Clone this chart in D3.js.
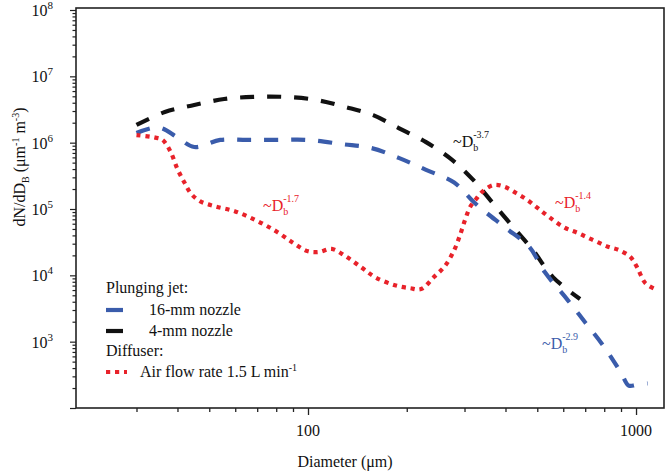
<!DOCTYPE html>
<html>
<head>
<meta charset="utf-8">
<script src="https://cdn.jsdelivr.net/npm/d3@7"></script>
<style>
  html, body { margin: 0; padding: 0; background: #fff; }
  svg { display: block; }
</style>
</head>
<body>
<svg id="chart" width="666" height="474" font-family="'Liberation Serif', 'Times New Roman', Times, serif"></svg>
<script>
// ---- data ----
const jet16Diam = [30, 35, 40, 45, 54, 65, 80, 100, 127, 156, 189, 229, 279, 325, 398, 472, 527, 620, 703, 800, 900, 950, 1000, 1085];
const jet16Conc = [1.4e6, 1.7e6, 1.2e6, 8.6e5, 1.1e6, 1.1e6, 1.1e6, 1.1e6, 9.5e5, 8.3e5, 5.9e5, 3.9e5, 2.5e5, 1.19e5, 5.3e4, 2.7e4, 1.12e4, 4.2e3, 1.9e3, 830, 340, 218, 222, 235];

const jet4Diam = [30, 36.6, 45, 55.5, 68, 85, 106, 130, 158, 189, 229, 275, 320, 364, 430, 485, 558, 675];
const jet4Conc = [1.85e6, 2.9e6, 3.7e6, 4.55e6, 4.9e6, 4.9e6, 4.4e6, 3.45e6, 2.6e6, 1.66e6, 1.02e6, 5.5e5, 2.7e5, 1.27e5, 4.8e4, 2.4e4, 9.4e3, 4.4e3];

const diffDiam = [30, 34, 36, 38, 40, 42, 44, 47, 52, 60, 70, 80, 90, 100, 108, 118, 131, 146, 160, 184, 205, 221, 242, 262, 279, 290, 301, 312, 325, 341, 369, 398, 431, 466, 502, 543, 603, 668, 740, 821, 887, 960, 1006, 1066, 1135];
const diffConc = [1.3e6, 1.2e6, 1.1e6, 7.5e5, 4e5, 2.5e5, 1.7e5, 1.3e5, 1.1e5, 9.2e4, 6.6e4, 4.6e4, 3.1e4, 2.3e4, 2.25e4, 2.5e4, 1.9e4, 1.3e4, 9.4e3, 7.1e3, 6.4e3, 6.2e3, 9.4e3, 1.4e4, 2.4e4, 3.9e4, 6.8e4, 1.07e5, 1.4e5, 1.85e5, 2.3e5, 2.15e5, 1.74e5, 1.37e5, 1.03e5, 7.6e4, 5.3e4, 4.3e4, 3.4e4, 2.7e4, 2.4e4, 1.9e4, 1.34e4, 7.7e3, 6.3e3];

const xTickLabels = [100, 1000];
const yTickExponents = [3, 4, 5, 6, 7, 8];

const seriesNames = ["16-mm nozzle", "4-mm nozzle", "Air flow rate 1.5 L min"];
const colors = { blue: "#3a5cab", black: "#111111", red: "#e8222a" };

// ---- layout ----
const FONT = "'Liberation Serif', 'Times New Roman', Times, serif";
const svg = d3.select("#chart");
const L = 76, R = 664, T = 8, B = 408;
const x = d3.scaleLog().domain([19.62, 1217]).range([L, R]);
const y = d3.scaleLog().domain([100, 1.072e8]).range([B, T]);

// ticks
const xMinor = [];
for (const dec of [10, 100]) for (let k = 2; k <= 9; k++) { const v = k * dec; if (v >= 30) xMinor.push(v); }
const xAxis = d3.axisBottom(x).tickValues(xMinor.concat(xTickLabels)).tickSize(4).tickFormat("");
const gx = svg.append("g").attr("transform", `translate(0,${B})`).call(xAxis);
gx.select(".domain").remove();
gx.selectAll(".tick line").attr("stroke", "#222").attr("stroke-width", 1.3)
  .attr("y2", d => xTickLabels.includes(d) ? 7 : 4);
svg.selectAll(".xlab").data(xTickLabels).enter().append("text")
  .attr("font-family", FONT).style("fill", "#111")
  .attr("x", d => x(d)).attr("y", 436).attr("text-anchor", "middle")
  .attr("font-size", 16).text(d => d);

const yMinor = [];
for (let e = 2; e <= 7; e++) for (let k = 2; k <= 9; k++) yMinor.push(k * Math.pow(10, e));
const yMajor = [2, 3, 4, 5, 6, 7, 8].map(e => Math.pow(10, e));
const yAxis = d3.axisLeft(y).tickValues(yMinor.concat(yMajor)).tickSize(4).tickFormat("");
const gy = svg.append("g").attr("transform", `translate(${L},0)`).call(yAxis);
gy.select(".domain").remove();
gy.selectAll(".tick line").attr("stroke", "#222").attr("stroke-width", 1.2)
  .attr("x2", d => yMajor.includes(d) ? -6 : -3.5);

const yl = svg.selectAll(".ylab").data(yTickExponents).enter().append("text")
  .attr("font-family", FONT).style("fill", "#111")
  .attr("x", 53).attr("y", d => y(Math.pow(10, d)) + 6).attr("text-anchor", "end")
  .attr("font-size", 16);
yl.append("tspan").text("10");
yl.append("tspan").attr("dy", -7).attr("font-size", 11).text(d => d);

// frame
svg.append("rect").attr("x", L).attr("y", T).attr("width", R - L).attr("height", B - T)
  .attr("fill", "none").attr("stroke", "#222").attr("stroke-width", 1.6);

// axis titles
svg.append("text").attr("font-family", FONT).style("fill", "#111")
  .attr("x", (L + R) / 2 - 25).attr("y", 467).attr("text-anchor", "middle")
  .attr("font-size", 16).text("Diameter (μm)");
const yt = svg.append("text").attr("font-family", FONT).style("fill", "#111")
  .attr("transform", "translate(25,167) rotate(-90)")
  .attr("text-anchor", "middle").attr("font-size", 16);
yt.append("tspan").text("dN/dD");
yt.append("tspan").attr("font-size", 10).attr("dy", 4).text("B");
yt.append("tspan").attr("dy", -4).text(" (μm");
yt.append("tspan").attr("font-size", 10).attr("dy", -6).text("-1");
yt.append("tspan").attr("dy", 6).text(" m");
yt.append("tspan").attr("font-size", 10).attr("dy", -6).text("-3");
yt.append("tspan").attr("dy", 6).text(")");

// lines
const line = d3.line().x(d => x(d[0])).y(d => y(d[1])).curve(d3.curveCatmullRom.alpha(0.5));
svg.append("clipPath").attr("id", "plotclip").append("rect")
  .attr("x", L).attr("y", T).attr("width", R - L).attr("height", B - T);
const plot = svg.append("g").attr("clip-path", "url(#plotclip)");

plot.append("path").datum(d3.zip(jet4Diam, jet4Conc)).attr("d", line)
  .attr("fill", "none").attr("stroke", colors.black).attr("stroke-width", 4.2)
  .attr("stroke-dasharray", "14,13");
plot.append("path").datum(d3.zip(jet16Diam, jet16Conc)).attr("d", line)
  .attr("fill", "none").attr("stroke", colors.blue).attr("stroke-width", 4.2)
  .attr("stroke-dasharray", "14,13");
plot.append("path").datum(d3.zip(diffDiam, diffConc)).attr("d", line)
  .attr("fill", "none").attr("stroke", colors.red).attr("stroke-width", 4.2)
  .attr("stroke-dasharray", "4.2,4.8");

// annotations
function ann(xp, yp, color, exp) {
  const t = svg.append("text").attr("font-family", FONT)
    .attr("x", xp).attr("y", yp).attr("font-size", 16).style("fill", color);
  t.append("tspan").text("~D");
  t.append("tspan").attr("font-size", 10).attr("dy", 4).text("b");
  t.append("tspan").attr("font-size", 10).attr("dx", -5).attr("dy", -13).text(exp);
}
ann(453, 147, colors.black, "-3.7");
ann(263, 211, colors.red, "-1.7");
ann(555, 208, colors.red, "-1.4");
ann(542, 349, colors.blue, "-2.9");

// legend
function ltext(xp, yp) {
  return svg.append("text").attr("font-family", FONT).style("fill", "#111")
    .attr("x", xp).attr("y", yp).attr("font-size", 16);
}
ltext(106, 293).text("Plunging jet:");
svg.append("line").attr("x1", 106).attr("x2", 123).attr("y1", 310).attr("y2", 310)
  .attr("stroke", colors.blue).attr("stroke-width", 4.2);
ltext(149, 315).text(seriesNames[0]);
svg.append("line").attr("x1", 106).attr("x2", 123).attr("y1", 331).attr("y2", 331)
  .attr("stroke", colors.black).attr("stroke-width", 4.2);
ltext(149, 336).text(seriesNames[1]);
ltext(106, 356).text("Diffuser:");
svg.append("line").attr("x1", 106).attr("x2", 127).attr("y1", 372).attr("y2", 372)
  .attr("stroke", colors.red).attr("stroke-width", 4.2).attr("stroke-dasharray", "4.2,4.8");
const lt = ltext(140, 377);
lt.append("tspan").text(seriesNames[2]);
lt.append("tspan").attr("font-size", 10).attr("dy", -6).text("-1");
</script>
</body>
</html>
